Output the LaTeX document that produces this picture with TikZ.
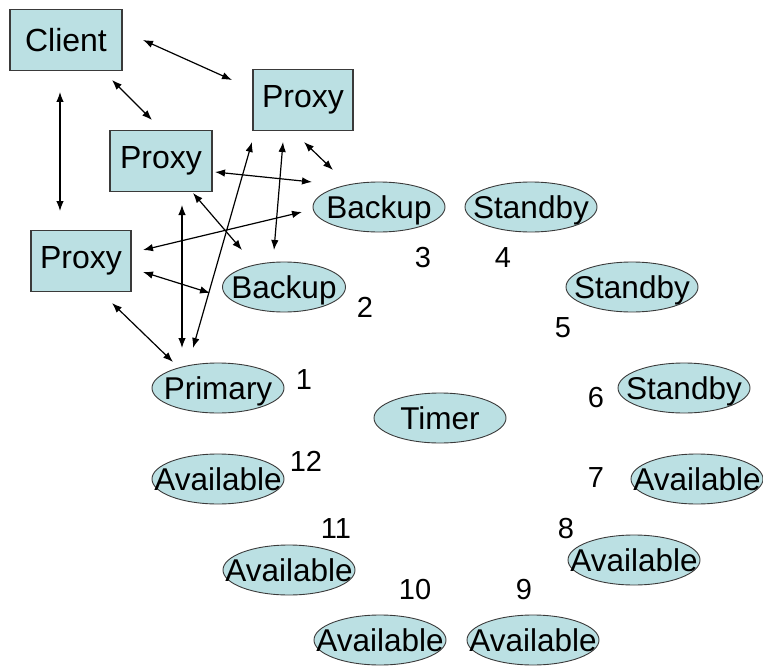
\documentclass[tikz,border=0pt]{standalone}
\usepackage{fontspec}
\setmainfont{Liberation Sans}
\usetikzlibrary{arrows.meta,shapes.geometric}
\definecolor{cellfill}{HTML}{BBE0E3}
\definecolor{cellline}{HTML}{3A3A3A}
% label that takes no room, so the ellipse keeps its own size
\newcommand\celltext[1]{\raisebox{-0.36em}[0pt][0pt]{\makebox[0pt]{#1}}}
\begin{document}
\begin{tikzpicture}[x=1pt,y=-1pt,
  procbox/.style={draw=cellline,fill=cellfill,line width=1.1pt,inner sep=0pt,
    minimum width=#1,minimum height=61pt,font=\fontsize{32}{32}\selectfont},
  procbox/.default=100pt,
  cell/.style={ellipse,draw=cellline,fill=cellfill,line width=0.9pt,inner sep=0pt,
    minimum width=132pt,minimum height=50pt,font=\fontsize{31.5}{31.5}\selectfont},
  slot/.style={font=\fontsize{29}{29}\selectfont,inner sep=0pt},
  link/.style={line width=1.2pt,{Latex[length=10pt,width=7.5pt]}-{Latex[length=10pt,width=7.5pt]}}]
\useasboundingbox (0,0) rectangle (763,666);

% client and proxies
\node[procbox=112pt] (client) at (66,40) {Client};
\node[procbox] (proxyA) at (303,100) {Proxy};
\node[procbox=102pt] (proxyB) at (161,161) {Proxy};
\node[procbox] (proxyC) at (81,261) {Proxy};

% ring of servers
\node[cell] (s1) at (218,388) {\celltext{Primary}};
\node[cell,minimum width=123pt] (s2) at (284,287) {\celltext{Backup}};
\node[cell] (s3) at (379,207) {\celltext{Backup}};
\node[cell] (s4) at (531,207) {\celltext{Standby}};
\node[cell] (s5) at (632,287) {\celltext{Standby}};
\node[cell] (s6) at (684,388) {\celltext{Standby}};
\node[cell] (s7) at (697,479) {\celltext{Available}};
\node[cell] (s8) at (634,560) {\celltext{Available}};
\node[cell] (s9) at (533,640) {\celltext{Available}};
\node[cell] (s10) at (380,640) {\celltext{Available}};
\node[cell] (s11) at (289,570) {\celltext{Available}};
\node[cell] (s12) at (218,479) {\celltext{Available}};
\node[cell] (timer) at (440,418) {\celltext{Timer}};

% slot numbers
\node[slot] (n1) at (304,380) {1};
\node[slot] (n2) at (365,307) {2};
\node[slot] (n3) at (423,258) {3};
\node[slot] (n4) at (503,258) {4};
\node[slot] (n5) at (563,328) {5};
\node[slot] (n6) at (596,398) {6};
\node[slot] (n7) at (596,478) {7};
\node[slot] (n8) at (566,529) {8};
\node[slot] (n9) at (524,590) {9};
\node[slot] (n10) at (415,590) {10};
\node[slot] (n11) at (336,529) {11};
\node[slot] (n12) at (306,461) {12};

% arrow end points
\coordinate (cA1) at (143,40);  \coordinate (cA2) at (232,80);
\coordinate (cB1) at (112,80);  \coordinate (cB2) at (152,120);
\coordinate (cC1) at (60,92);   \coordinate (cC2) at (60,211);
\coordinate (a31) at (304,142); \coordinate (a32) at (333,170);
\coordinate (b31) at (215,172); \coordinate (b32) at (312,182);
\coordinate (b21) at (193,193); \coordinate (b22) at (242,250);
\coordinate (a21) at (283,142); \coordinate (a22) at (274,250);
\coordinate (a11) at (252,142); \coordinate (a12) at (193,348);
\coordinate (x11) at (182,205); \coordinate (x12) at (182,348);
\coordinate (c31) at (143,250); \coordinate (c32) at (302,212);
\coordinate (c21) at (143,272); \coordinate (c22) at (210,293);
\coordinate (c11) at (112,303); \coordinate (c12) at (173,362);

% message paths
\draw[link] (cA1) -- (cA2);
\draw[link] (cB1) -- (cB2);
\draw[link] (cC1) -- (cC2);
\draw[link] (a31) -- (a32);
\draw[link] (b31) -- (b32);
\draw[link] (b21) -- (b22);
\draw[link] (a21) -- (a22);
\draw[link] (a11) -- (a12);
\draw[link] (x11) -- (x12);
\draw[link] (c31) -- (c32);
\draw[link] (c21) -- (c22);
\draw[link] (c11) -- (c12);
\end{tikzpicture}
\end{document}
